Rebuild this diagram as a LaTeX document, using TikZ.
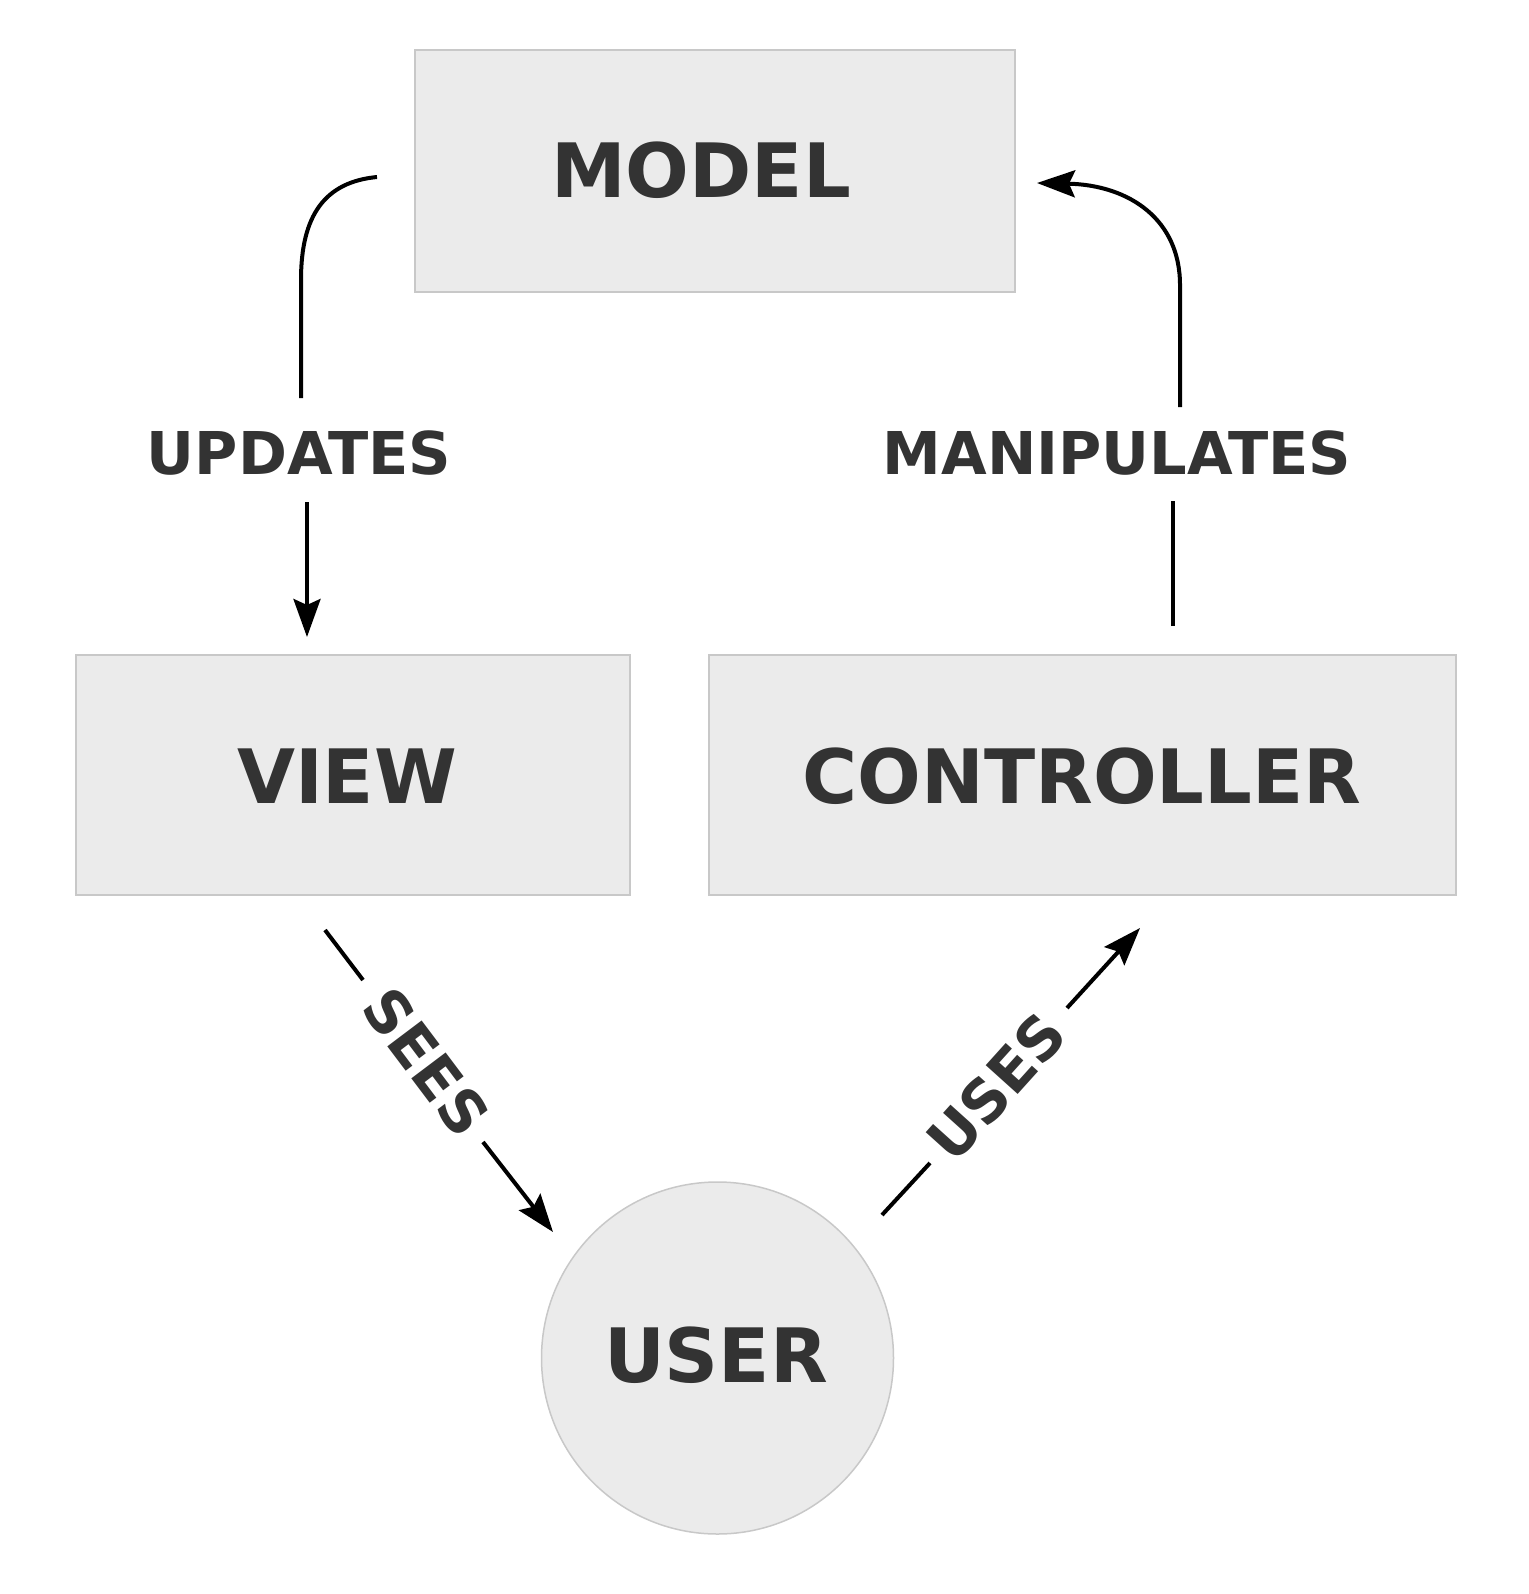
\documentclass[tikz,border=0pt]{standalone}
\usepackage{fontspec}
\setmainfont{DejaVu Sans}
\usetikzlibrary{arrows.meta}
\definecolor{boxfill}{HTML}{EBEBEB}
\definecolor{boxline}{HTML}{C8C8C8}
\definecolor{txt}{HTML}{333333}
\tikzset{
  box/.style={draw=boxline, fill=boxfill, line width=2pt},
  bigtext/.style={text=txt, font=\bfseries\fontsize{75}{90}\selectfont, inner sep=0pt, anchor=center},
  lbl/.style={text=txt, font=\bfseries\fontsize{59}{70}\selectfont, inner sep=0pt, anchor=center},
  conn/.style={line width=4pt, black},
  tip/.style={-{Stealth[length=38pt, width=27pt, inset=6pt]}}
}
\begin{document}
\begin{tikzpicture}[x=1pt, y=-1pt]
\useasboundingbox (0,0) rectangle (1528,1594);
% boxes
\draw[box] (415,50) rectangle (1015,292);
\draw[box] (76,655) rectangle (630,895);
\draw[box] (709,655) rectangle (1456,895);
\draw[box, line width=1.5pt] (717.5,1358) circle (176);
% texts
\node[bigtext] (model) at (701,170) {MODEL};
\node[bigtext] (view) at (347,776) {VIEW};
\node[bigtext] (controller) at (1082,776) {CONTROLLER};
\node[bigtext] (user) at (716,1355) {USER};
% labels
\node[lbl] (updates) at (299,453) {UPDATES};
\node[lbl] (manip) at (1117,453) {MANIPULATES};
\node[lbl, rotate=-53] (sees) at (426,1062) {SEES};
\node[lbl, rotate=48] (uses) at (996,1087) {USES};
% connector endpoints
\coordinate (u1) at (377,177);
\coordinate (u2) at (301,398);
\coordinate (u3) at (307,502);
\coordinate (u4) at (307,637);
\coordinate (m1) at (1173,626);
\coordinate (m2) at (1173,501);
\coordinate (m3) at (1180,407);
\coordinate (m4) at (1037,183);
\coordinate (s1) at (325,930);
\coordinate (s2) at (363,980);
\coordinate (s3) at (483,1142);
\coordinate (s4) at (553,1232);
\coordinate (e1) at (882,1215);
\coordinate (e2) at (930,1163);
\coordinate (e3) at (1067,1008);
\coordinate (e4) at (1140,928);
% connectors
\draw[conn] (u1) .. controls (325,182) and (301,215) .. (301,280) -- (u2);
\draw[conn, tip] (u3) -- (u4);
\draw[conn] (m1) -- (m2);
\draw[conn, tip] (m3) -- (1180,285) .. controls (1180,220) and (1130,185) .. (m4);
\draw[conn] (s1) -- (s2);
\draw[conn, tip] (s3) -- (s4);
\draw[conn] (e1) -- (e2);
\draw[conn, tip] (e3) -- (e4);
\end{tikzpicture}
\end{document}
